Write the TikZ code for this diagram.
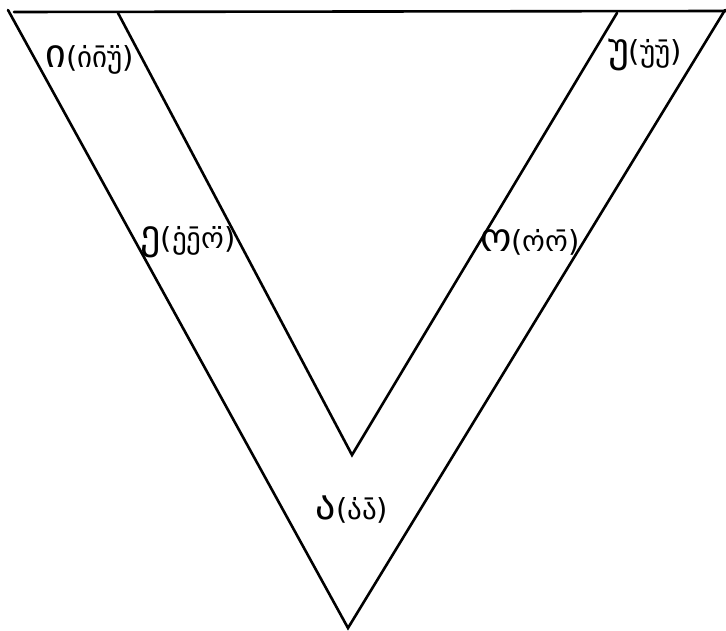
\documentclass[tikz,border=0pt]{standalone}
\usepackage{fontspec}
\newfontfamily\geofont[Script=Georgian]{DejaVu Sans}
\newcommand\capv[1]{{\fontsize{40}{40}\selectfont #1}}
\tikzset{
  vowel/.style={inner sep=1pt,font=\geofont\fontsize{29}{32}\selectfont}
}

\begin{document}
\begin{tikzpicture}[x=1pt,y=-1pt,line width=2.6pt,line cap=round]
\useasboundingbox (0,0) rectangle (726,631);
% ---------- corners of the V ----------
\coordinate (topL) at (8,10);
\coordinate (topIL) at (118,13);
\coordinate (topIR) at (617,13);
\coordinate (topR) at (725,10);
\coordinate (inner) at (352,455);
\coordinate (bottom) at (348,628);
% ---------- outline ----------
\draw (14,12) -- (726,11);
\draw (topL) -- (bottom) -- (topR);
\draw (topIL) -- (inner) -- (topIR);
% ---------- vowels ----------
\node[vowel] (lblI) at (90,60) {\capv{ი}(ი̇ი̄უ̈)};
\node[vowel] (lblU) at (645,55) {\capv{უ}(უ̇უ̄)};
\node[vowel] (lblE) at (188,242) {\capv{ე}(ე̇ე̄ო̈)};
\node[vowel] (lblO) at (530,242) {\capv{ო}(ო̇ო̄)};
\node[vowel] (lblA) at (352,510) {\capv{ა}(ა̇ა̄)};
\end{tikzpicture}
\end{document}
